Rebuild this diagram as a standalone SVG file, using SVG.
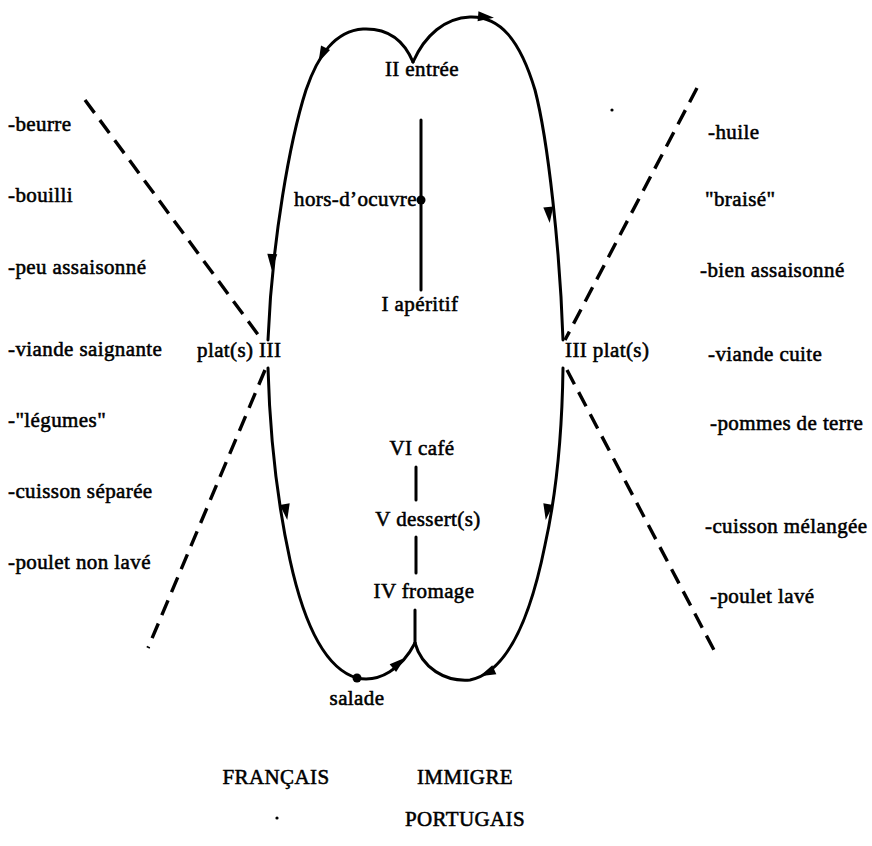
<svg xmlns="http://www.w3.org/2000/svg" width="872" height="846" viewBox="0 0 872 846">
<style>
text{font-family:"Liberation Serif","Times New Roman",serif;font-size:21px;letter-spacing:0.4px;fill:#000;stroke:#000;stroke-width:0.55}
.m{text-anchor:middle}
.e{text-anchor:end}
.solid{fill:none;stroke:#000;stroke-width:3;stroke-linecap:round}
.dash{fill:none;stroke:#000;stroke-width:3.4;stroke-dasharray:16 9}
</style>
<defs>
<path id="ah" d="M8,0 L-8,-5 L-8,5 Z" fill="#000"/>
</defs>
<rect width="872" height="846" fill="#fff"/>
<g id="connectors">
<path class="solid" d="M413,62 C403,38 385,28 363,29 C335,31 318,55 306,90 C290,140 272,240 268,340"/>
<path class="solid" d="M268,368 C270,440 278,505 290,560 C302,615 322,668 357,678 C380,683 402,668 415,643"/>
<path class="solid" d="M413,62 C425,35 445,18 470,17 C500,16 520,40 535,90 C548,140 560,250 563,340"/>
<path class="solid" d="M563,368 C562,440 555,500 545,545 C532,610 510,672 470,680 C445,682 422,668 415,643"/>
<path class="solid" d="M415,610 L415,643"/>
<path class="solid" d="M421,120 L421,290"/>
<path class="solid" d="M416,467 L416,500"/>
<path class="solid" d="M416,537 L416,573"/>
<line class="dash" x1="85" y1="100" x2="262" y2="340"/>
<line class="dash" x1="265" y1="370" x2="148" y2="648"/>
<line class="dash" x1="697" y1="88" x2="565" y2="340"/>
<line class="dash" x1="567" y1="370" x2="715" y2="652"/>
<use href="#ah" transform="translate(322,55) rotate(116)"/>
<use href="#ah" transform="translate(272,262) rotate(92)"/>
<use href="#ah" transform="translate(286,512) rotate(81)"/>
<use href="#ah" transform="translate(399,663) rotate(-40)"/>
<use href="#ah" transform="translate(486,17) rotate(5)"/>
<use href="#ah" transform="translate(549,215) rotate(85)"/>
<use href="#ah" transform="translate(547,512) rotate(99)"/>
<use href="#ah" transform="translate(487,673) rotate(156)"/>
</g>
<g id="n-entree"><text class="m" x="422" y="76">II entrée</text></g>
<g id="n-hors"><text class="e" x="417" y="206">hors-d’ocuvre</text><circle cx="421" cy="200" r="4.5"/></g>
<g id="n-aperitif"><text class="m" x="420" y="311">I apéritif</text></g>
<g id="n-plat-left"><text x="197" y="357">plat(s) III</text></g>
<g id="n-plat-right"><text x="565" y="357">III plat(s)</text></g>
<g id="n-cafe"><text class="m" x="422" y="455">VI café</text></g>
<g id="n-dessert"><text class="m" x="428" y="526">V dessert(s)</text></g>
<g id="n-fromage"><text class="m" x="424" y="598">IV fromage</text></g>
<g id="n-salade"><circle cx="357" cy="678" r="4.5"/><text class="m" x="357" y="705">salade</text></g>
<g id="left-list">
<text x="8" y="131">-beurre</text>
<text x="8" y="202">-bouilli</text>
<text x="8" y="274">-peu assaisonné</text>
<text x="8" y="356">-viande saignante</text>
<text x="8" y="427">-"légumes"</text>
<text x="8" y="498">-cuisson séparée</text>
<text x="8" y="569">-poulet non lavé</text>
</g>
<g id="right-list">
<text x="708" y="139">-huile</text>
<text x="705" y="206">"braisé"</text>
<text x="700" y="277">-bien assaisonné</text>
<text x="708" y="361">-viande cuite</text>
<text x="710" y="430">-pommes de terre</text>
<text x="705" y="533">-cuisson mélangée</text>
<text x="710" y="603">-poulet lavé</text>
</g>
<g id="labels">
<text class="m" x="276" y="784">FRANÇAIS</text>
<text class="m" x="465" y="784">IMMIGRE</text>
<text class="m" x="465" y="826">PORTUGAIS</text>
<circle cx="612" cy="110" r="1.6"/>
<circle cx="277" cy="818" r="1.6"/>
</g>
</svg>
